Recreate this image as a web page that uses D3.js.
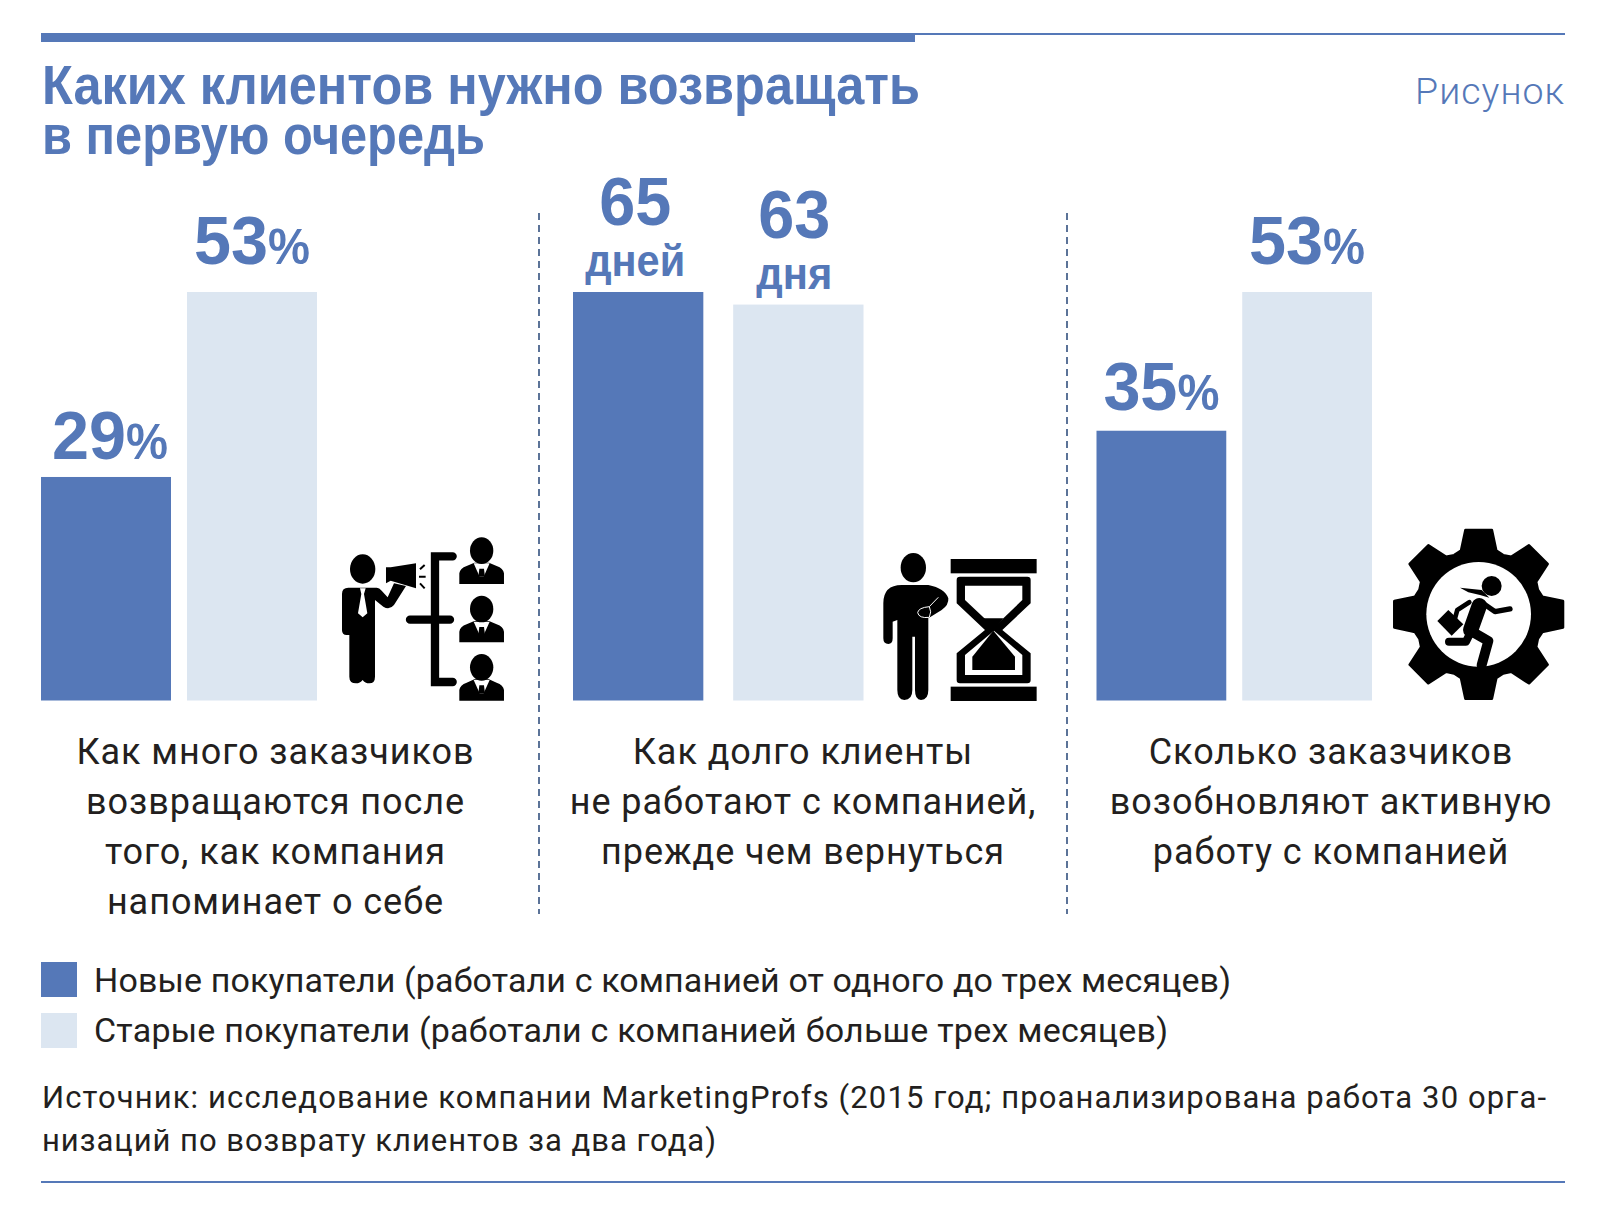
<!DOCTYPE html>
<html>
<head>
<meta charset="utf-8">
<script src="https://cdn.jsdelivr.net/npm/d3@7"></script>
<style>
html, body { margin: 0; padding: 0; background: #fff; }
svg { display: block; }
.head { font-family: "Liberation Sans", sans-serif; font-weight: bold; fill: #5578b8; }
.body { font-family: Roboto, sans-serif; fill: #231f20; }
</style>
</head>
<body>
<script>
const PANEL_VALUES = [[29, 53], [65, 63], [35, 53]];
const PANEL_UNITS = [["%", "%"], ["дней", "дня"], ["%", "%"]];
const SERIES = ["Новые покупатели", "Старые покупатели"];
const TITLE_LINES = ["Каких клиентов нужно возвращать", "в первую очередь"];
const PANEL_TEXTS = [
    ["Как много заказчиков", "возвращаются после", "того, как компания", "напоминает о себе"],
    ["Как долго клиенты", "не работают с компанией,", "прежде чем вернуться"],
    ["Сколько заказчиков", "возобновляют активную", "работу с компанией"]
];
const LEGEND_TEXTS = [
    "Новые покупатели (работали с компанией от одного до трех месяцев)",
    "Старые покупатели (работали с компанией больше трех месяцев)"
];
const SOURCE_LINES = [
    "Источник: исследование компании MarketingProfs (2015 год; проанализирована работа 30 орга-",
    "низаций по возврату клиентов за два года)"
];

const BLUE = "#5578b8";
const PALE = "#dce6f1";
const INK = "#000";
const WIDTH = 1605, HEIGHT = 1219;
const BASELINE = 700.5;

const svg = d3.select("body").append("svg").attr("width", WIDTH).attr("height", HEIGHT);
const color = d3.scaleOrdinal().domain(SERIES).range([BLUE, PALE]);

// header rules
svg.append("rect").attr("x", 41).attr("y", 33).attr("width", 874).attr("height", 9).attr("fill", BLUE);
svg.append("rect").attr("x", 915).attr("y", 33).attr("width", 650).attr("height", 2).attr("fill", BLUE);
svg.append("rect").attr("x", 41).attr("y", 1181).attr("width", 1524).attr("height", 2).attr("fill", BLUE);

const titleWidths = [878, 443];
svg.selectAll(".title").data(TITLE_LINES).enter().append("text")
    .attr("class", "head title")
    .attr("x", 42)
    .attr("y", (d, i) => 104 + i * 50)
    .attr("font-size", 55)
    .attr("textLength", (d, i) => titleWidths[i])
    .attr("lengthAdjust", "spacingAndGlyphs")
    .text(d => d);

svg.append("text").attr("class", "body")
    .attr("x", 1565).attr("y", 104)
    .attr("text-anchor", "end")
    .attr("font-size", 37.5)
    .attr("font-weight", 300)
    .attr("letter-spacing", 1)
    .style("fill", BLUE)
    .text("Рисунок");

// panels
const panelRanges = [[41, 317], [573, 863.5], [1096.5, 1372]];
const panelGaps = [16 / 146, 30 / 161, 16 / 146];
const panelCenters = [275.5, 803, 1331];
const labelGaps = [[18, 28], [67, 67], [21, 28]];
const labelShift = [[4, 0], [-3, -4], [0, 0]];
const percentScale = d3.scaleLinear().domain([0, 53]).range([BASELINE, 292]);
const dayScale = d3.scaleLinear().domain([0, 65]).range([BASELINE, 292]);

PANEL_VALUES.forEach((values, p) => {
    const x = d3.scaleBand().domain(SERIES).range(panelRanges[p]).paddingInner(panelGaps[p]);
    const y = p === 1 ? dayScale : percentScale;
    const g = svg.append("g").attr("class", "panel");
    g.selectAll("rect").data(values).enter().append("rect")
        .attr("x", (d, i) => x(SERIES[i]))
        .attr("y", d => y(d))
        .attr("width", x.bandwidth())
        .attr("height", d => BASELINE - y(d))
        .attr("fill", (d, i) => color(SERIES[i]));

    values.forEach((v, i) => {
        const cx = x(SERIES[i]) + x.bandwidth() / 2 + labelShift[p][i];
        const top = y(v);
        if (p === 1) {
            g.append("text").attr("class", "head")
                .attr("x", cx).attr("y", top - labelGaps[p][i])
                .attr("text-anchor", "middle").attr("font-size", 68)
                .attr("textLength", 72).attr("lengthAdjust", "spacingAndGlyphs").text(v);
            g.append("text").attr("class", "head")
                .attr("x", cx).attr("y", top - 16)
                .attr("text-anchor", "middle").attr("font-size", 45)
                .attr("textLength", i === 0 ? 100 : 76).attr("lengthAdjust", "spacingAndGlyphs")
                .text(PANEL_UNITS[p][i]);
        } else {
            const t = g.append("text").attr("class", "head")
                .attr("x", cx).attr("y", top - labelGaps[p][i])
                .attr("text-anchor", "middle").attr("font-size", 68);
            t.append("tspan").attr("textLength", 74).attr("lengthAdjust", "spacingAndGlyphs").text(v);
            t.append("tspan").attr("font-size", 50).attr("textLength", 42).attr("lengthAdjust", "spacingAndGlyphs")
                .text(PANEL_UNITS[p][i]);
        }
    });

    g.selectAll(".cap").data(PANEL_TEXTS[p]).enter().append("text")
        .attr("class", "body cap")
        .attr("x", panelCenters[p])
        .attr("y", (d, i) => 764 + i * 50)
        .attr("text-anchor", "middle")
        .attr("font-size", 36)
        .attr("letter-spacing", 0.95)
        .text(d => d);
});

// dashed dividers
[539, 1067].forEach(x => {
    svg.append("line").attr("x1", x).attr("x2", x).attr("y1", 213).attr("y2", 914)
        .attr("stroke", "#5b7398").attr("stroke-width", 2).attr("stroke-dasharray", "7 5");
});

// legend
const legendWidths = [1137, 1074];
LEGEND_TEXTS.forEach((t, i) => {
    svg.append("rect").attr("x", 41).attr("y", 962 + i * 51).attr("width", 36).attr("height", 35)
        .attr("fill", color(SERIES[i]));
    svg.append("text").attr("class", "body")
        .attr("x", 94).attr("y", 992 + i * 50)
        .attr("font-size", 34)
        .attr("textLength", legendWidths[i])
        .text(t);
});

// source
const sourceWidths = [1504, 674];
svg.selectAll(".src").data(SOURCE_LINES).enter().append("text")
    .attr("class", "body src")
    .attr("x", 42)
    .attr("y", (d, i) => 1108 + i * 43)
    .attr("font-size", 31)
    .attr("textLength", (d, i) => sourceWidths[i])
    .text(d => d);

// icon: man with megaphone
const icon1 = svg.append("g").attr("transform", "translate(320,520) scale(0.3333)");
icon1.append("ellipse").attr("cx", 128).attr("cy", 147).attr("rx", 38).attr("ry", 44).attr("fill", INK);
icon1.append("path").attr("fill", INK)
    .attr("d", "M85,203 H170 Q178,203 185,212 L203,232 L222,190 L258,198 L222,255 Q208,272 190,260 L165,240 V470 Q165,490 148,490 Q135,490 128,480 Q120,490 108,490 Q88,490 88,470 V345 H80 Q66,345 66,330 V222 Q66,203 85,203 Z");
icon1.append("path").attr("fill", "#fff").attr("d", "M120,205 H137 L132,222 L142,280 L128,292 L114,280 L124,222 Z");
icon1.append("path").attr("fill", INK).attr("d", "M198,142 H212 L288,130 V205 L212,182 L198,190 Z");
icon1.append("path").attr("fill", "none").attr("stroke", INK).attr("stroke-width", 6)
    .attr("d", "M300,148 L314,135 M297,170 H317 M300,190 L314,205");
icon1.append("path").attr("fill", "none").attr("stroke", INK).attr("stroke-width", 25).attr("stroke-linecap", "round")
    .attr("d", "M398,109 H345 V486 H398 M270,299 H390");
[0, 175, 350].forEach(dy => {
    const p = icon1.append("g").attr("transform", `translate(0,${dy})`);
    p.append("path").attr("fill", INK)
        .attr("d", "M418,192 V160 Q420,145 440,138 L463,128 L507,128 L530,138 Q550,145 552,160 V192 Z");
    p.append("path").attr("fill", "#fff").attr("d", "M461,130 H509 L491,170 H479 Z");
    p.append("path").attr("fill", INK).attr("d", "M478,146 H492 L495,170 H475 Z");
    p.append("ellipse").attr("cx", 485).attr("cy", 92).attr("rx", 35).attr("ry", 40).attr("fill", INK);
});

// icon: man with hourglass
const icon2 = svg.append("g").attr("transform", "translate(870,540) scale(0.3333)");
icon2.append("ellipse").attr("cx", 130).attr("cy", 83).attr("rx", 38).attr("ry", 44).attr("fill", INK);
icon2.append("path").attr("fill", INK)
    .attr("d", "M95,135 H175 Q225,145 235,175 Q237,195 215,210 L175,235 V450 Q175,480 153,480 Q135,480 135,450 V290 H127 V450 Q127,480 103,480 Q82,480 82,450 V240 L68,245 V295 Q68,312 55,312 Q40,312 40,295 V190 Q40,135 95,135 Z");
icon2.append("path").attr("fill", "none").attr("stroke", "#fff").attr("stroke-width", 3)
    .attr("d", "M205,172 L178,200 Q145,203 143,218 Q147,236 178,232 Q186,215 178,200");
icon2.append("rect").attr("x", 242).attr("y", 57).attr("width", 258).attr("height", 43).attr("fill", INK);
icon2.append("rect").attr("x", 242).attr("y", 440).attr("width", 258).attr("height", 43).attr("fill", INK);
icon2.append("path").attr("fill", INK)
    .attr("d", "M270,110 H472 Q482,110 482,120 V190 L397,270 L482,340 V420 Q482,430 472,430 H270 Q260,430 260,420 V340 L345,270 L260,190 V120 Q260,110 270,110 Z");
icon2.append("path").attr("fill", "#fff").attr("d", "M285,137 H457 V180 L372,262 L285,180 Z");
icon2.append("path").attr("fill", "#fff").attr("d", "M372,272 L457,345 V405 H285 V345 Z");
icon2.append("path").attr("fill", INK).attr("d", "M340,235 H400 L370,272 Z");
icon2.append("path").attr("fill", INK).attr("d", "M370,272 L435,350 V390 H307 V350 Z");

// icon: running man inside a gear
const icon3 = svg.append("g").attr("transform", "translate(1380,515) scale(0.3333)");
const gearPts = [];
d3.range(8).forEach(k => {
    const a = k * Math.PI / 4;
    gearPts.push([a - 0.27, 198], [a - 0.155, 256], [a + 0.155, 256], [a + 0.27, 198], [a + Math.PI / 8, 192]);
});
const gearLine = d3.lineRadial().angle(d => d[0]).radius(d => d[1]).curve(d3.curveLinearClosed);
icon3.append("path").attr("transform", "translate(296,298)")
    .attr("d", gearLine(gearPts))
    .attr("fill", INK).attr("stroke", INK).attr("stroke-width", 8).attr("stroke-linejoin", "round");
icon3.append("circle").attr("cx", 296).attr("cy", 298).attr("r", 157).attr("fill", "#fff");
icon3.append("circle").attr("cx", 335).attr("cy", 213).attr("r", 30).attr("fill", INK);
icon3.append("path").attr("fill", INK).attr("d", "M240,218 L305,225 L328,248 L300,240 L265,232 Z");
icon3.append("path").attr("fill", INK).attr("d", "M172,318 L205,285 L250,328 L215,362 Z");
const limb = (d, w) => icon3.append("path").attr("d", d).attr("fill", "none").attr("stroke", INK)
    .attr("stroke-width", w).attr("stroke-linecap", "round").attr("stroke-linejoin", "round");
limb("M298,272 L272,345", 46);
limb("M272,352 L258,380 L207,380", 24);
limb("M280,352 L325,378 L305,450", 30);
limb("M305,262 L345,290 L390,282", 16);
limb("M268,262 L232,285 L225,310", 14);
</script>
</body>
</html>
